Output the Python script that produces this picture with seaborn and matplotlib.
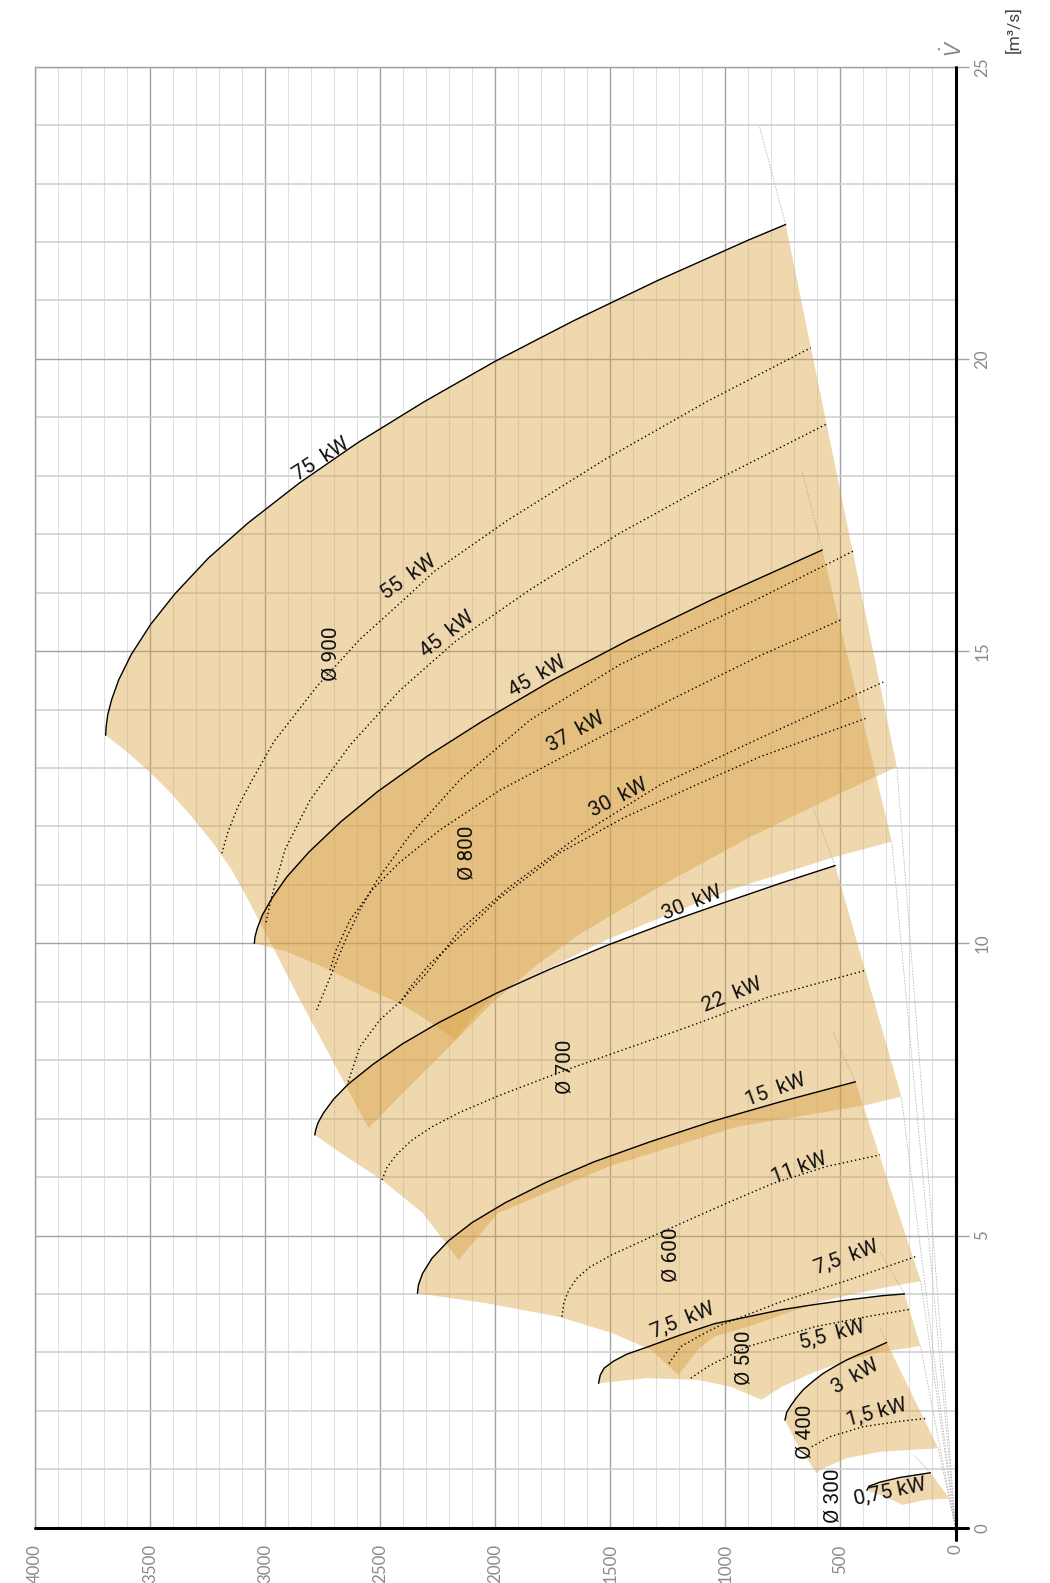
import matplotlib
matplotlib.use("Agg")
import matplotlib.pyplot as plt
import seaborn as sns
import pandas as pd
from matplotlib.ticker import MultipleLocator

# ---------------- data (pressure p in Pa, flow V in m3/s) ----------------
P_TICKS = [0, 500, 1000, 1500, 2000, 2500, 3000, 3500, 4000]
V_TICKS = [0, 5, 10, 15, 20, 25]

# --- Ø900 ---
D900_TOP_P = [3693, 3691, 3684, 3667, 3636, 3582, 3497, 3392, 3247, 3075, 2850, 2596, 2312,
              2000, 1661, 1295, 902, 738]
D900_TOP_V = [13.56, 13.70, 13.91, 14.17, 14.51, 14.94, 15.46, 15.98, 16.59, 17.19, 17.88,
              18.57, 19.26, 19.96, 20.65, 21.34, 22.03, 22.30]
D900_BOT_P = [255, 515, 891, 1268, 1644, 1833, 2021, 2172, 2362, 2551]
D900_BOT_V = [13.02, 12.54, 11.82, 11.01, 10.13, 9.59, 8.95, 8.34, 7.59, 6.84]
D900_LEFT_P = [2551, 2705, 2854, 2968, 3065, 3144, 3223, 3311, 3407, 3504, 3605, 3693]
D900_LEFT_V = [6.84, 7.98, 9.07, 9.95, 10.68, 11.25, 11.70, 12.13, 12.56, 12.94, 13.29, 13.56]
D900_55_P = [3188, 3162, 3118, 3057, 2962, 2774, 2586, 2397, 2266, 1946, 1519, 1080, 629]
D900_55_V = [11.54, 11.90, 12.34, 12.79, 13.45, 14.40, 15.21, 15.88, 16.36, 17.24, 18.29,
             19.27, 20.19]
D900_45_P = [2996, 2970, 2914, 2805, 2631, 2414, 2175, 1849, 1458, 1023, 563]
D900_45_V = [10.36, 10.82, 11.60, 12.45, 13.39, 14.33, 15.16, 16.05, 17.02, 17.96, 18.88]
D900_37_P = [2776, 2705, 2645, 2588, 2514, 2371, 2153, 1849, 1458, 850, 445]
D900_37_V = [8.86, 9.54, 10.11, 10.57, 11.08, 11.85, 12.80, 13.82, 14.77, 15.91, 16.71]
D900_30_P = [2639, 2588, 2501, 2414, 2298, 2153, 1936, 1632, 1284, 850, 314]
D900_30_V = [7.63, 8.23, 8.69, 9.00, 9.49, 10.23, 10.97, 11.85, 12.71, 13.51, 14.47]

# --- Ø800 ---
D800_TOP_P = [3047, 3044, 3034, 3011, 2969, 2907, 2810, 2671, 2510, 2296, 2056, 1753, 1420,
              1059, 579]
D800_TOP_V = [10.00, 10.11, 10.26, 10.49, 10.78, 11.13, 11.56, 12.08, 12.60, 13.20, 13.80,
              14.50, 15.19, 15.88, 16.73]
D800_BOT_P = [277, 523, 984, 1517, 1871, 1996, 2088, 2172]
D800_BOT_V = [11.74, 11.48, 10.91, 10.06, 9.37, 9.14, 8.77, 8.35]
D800_LEFT_P = [2172, 2298, 2414, 2545, 2718, 2907, 3047]
D800_LEFT_V = [8.35, 8.69, 8.97, 9.20, 9.54, 9.86, 10.00]
D800_37_P = [2718, 2692, 2631, 2536, 2414, 2240, 1980, 1610, 1241, 850, 495]
D800_37_V = [9.54, 9.88, 10.40, 10.91, 11.39, 11.94, 12.62, 13.39, 14.16, 14.92, 15.54]
D800_30_P = [2414, 2371, 2284, 2153, 1980, 1719, 1436, 1110, 850, 389]
D800_30_V = [8.97, 9.24, 9.65, 10.12, 10.78, 11.55, 12.16, 12.74, 13.19, 13.85]

# --- Ø700 ---
D700_TOP_P = [2784, 2780, 2770, 2746, 2703, 2639, 2531, 2403, 2242, 1998, 1755, 1511, 1256,
              1010, 751, 523]
D700_TOP_V = [6.72, 6.81, 6.93, 7.10, 7.33, 7.59, 7.93, 8.28, 8.65, 9.14, 9.57, 9.97, 10.35,
              10.69, 11.04, 11.33]
D700_BOT_P = [235, 390, 949, 1508, 1989, 2159]
D700_BOT_V = [7.375, 7.23, 6.86, 6.18, 5.38, 4.58]
D700_LEFT_P = [2159, 2314, 2492, 2671, 2784]
D700_LEFT_V = [4.58, 5.38, 5.95, 6.41, 6.72]
D700_22_P = [2492, 2471, 2432, 2366, 2275, 2153, 1980, 1694, 1162, 807, 389]
D700_22_V = [5.95, 6.16, 6.37, 6.62, 6.86, 7.11, 7.40, 7.83, 8.57, 9.09, 9.54]

# --- Ø600 ---
D600_TOP_P = [2338, 2334, 2316, 2275, 2203, 2101, 1957, 1779, 1571, 1330, 1060, 759, 435]
D600_TOP_V = [4.01, 4.15, 4.35, 4.61, 4.91, 5.22, 5.56, 5.91, 6.26, 6.60, 6.95, 7.29, 7.63]
D600_BOT_P = [151, 318, 464, 610, 756, 902, 1048, 1121, 1204]
D600_BOT_V = [4.22, 4.10, 3.98, 3.84, 3.64, 3.44, 3.27, 3.04, 2.61]
D600_LEFT_P = [1204, 1322, 1492, 1725, 2036, 2338]
D600_LEFT_V = [2.61, 3.04, 3.33, 3.61, 3.84, 4.01]
D600_11_P = [1710, 1702, 1680, 1645, 1589, 1493, 1259, 996, 794, 561, 328]
D600_11_V = [3.61, 3.85, 4.07, 4.27, 4.46, 4.67, 5.09, 5.55, 5.89, 6.18, 6.38]
D600_75_P = [1245, 1194, 1104, 1019, 756, 464, 172]
D600_75_V = [2.81, 3.10, 3.30, 3.47, 3.87, 4.24, 4.64]

# --- Ø500 ---
D500_TOP_P = [1551, 1544, 1527, 1486, 1428, 1340, 1194, 1048, 902, 756, 610, 464, 318, 222]
D500_TOP_V = [2.47, 2.61, 2.73, 2.85, 2.97, 3.09, 3.30, 3.49, 3.61, 3.73, 3.82, 3.90, 3.97,
              4.00]
D500_BOT_P = [152, 318, 464, 610, 756, 843]
D500_BOT_V = [3.11, 3.01, 2.87, 2.67, 2.41, 2.19]
D500_LEFT_P = [843, 975, 1121, 1340, 1551]
D500_LEFT_V = [2.19, 2.41, 2.53, 2.56, 2.47]
D500_55_P = [1150, 1067, 902, 610, 372, 193]
D500_55_V = [2.56, 2.78, 3.10, 3.44, 3.62, 3.74]

# --- Ø400 ---
D400_TOP_P = [741, 734, 719, 690, 662, 618, 575, 524, 473, 422, 372, 299]
D400_TOP_V = [1.84, 1.97, 2.07, 2.23, 2.36, 2.51, 2.64, 2.76, 2.87, 2.96, 3.04, 3.17]
D400_BOT_P = [75, 198, 328, 473, 589, 603]
D400_BOT_V = [1.36, 1.33, 1.30, 1.19, 0.99, 0.93]
D400_LEFT_P = [603, 632, 690, 741]
D400_LEFT_V = [0.93, 1.10, 1.44, 1.84]
D400_15_P = [625, 545, 401, 255, 125]
D400_15_V = [1.386, 1.557, 1.728, 1.814, 1.872]

# --- Ø300 ---
D300_TOP_P = [385, 376, 328, 241, 109]
D300_TOP_V = [0.64, 0.71, 0.78, 0.86, 0.94]
D300_BOT_P = [26, 132, 230]
D300_BOT_V = [0.50, 0.475, 0.39]
D300_LEFT_P = [230, 306, 385]
D300_LEFT_V = [0.39, 0.53, 0.64]

# faint system lines: lower corner and upper extension of each fan field
SYS_LOW_P = [255, 277, 235, 151, 152, 75, 26]
SYS_LOW_V = [13.02, 11.74, 7.375, 4.22, 3.11, 1.36, 0.50]
SYS_HI_P0 = [738, 579, 523, 435, 222, 299, 109]
SYS_HI_V0 = [22.30, 16.73, 11.33, 7.63, 4.00, 3.17, 0.94]
SYS_HI_P1 = [852, 667, 619, 532, 328, 328, 180]
SYS_HI_V1 = [23.98, 18.09, 12.32, 8.48, 4.72, 3.42, 1.24]

# labels: text, p, V, rotation
LABEL_TEXT = ["75  kW", "55  kW", "Ø 900", "45  kW", "45  kW", "37  kW", "30  kW", "Ø 800",
              "30  kW", "22  kW", "Ø 700", "15  kW", "11 kW", "Ø 600", "7,5  kW", "7,5  kW",
              "5,5  kW", "Ø 500", "3  kW", "1,5 kW", "Ø 400", "0,75 kW", "Ø 300"]
LABEL_P = [2758, 2377, 2713, 2209, 1818, 1651, 1467, 2121, 1147, 971, 1695, 783, 678, 1235,
           476, 1186, 537, 919, 436, 344, 655, 283, 533]
LABEL_V = [18.28, 16.26, 14.95, 15.29, 14.57, 13.62, 12.49, 11.54, 10.68, 9.12, 7.88, 7.48,
           6.15, 4.67, 4.63, 3.54, 3.29, 2.91, 2.59, 1.96, 1.64, 0.62, 0.54]
LABEL_ROT = [33, 35, 90, 38, 30, 29, 27, 90, 22, 22, 90, 20, 20, 90, 20, 22, 15, 90, 30, 15,
             90, 12, 90]

# ---------------- drawing ----------------
sns.set_theme(style="white")
plt.rcParams["font.family"] = ["Roboto", "DejaVu Sans"]

FILL = "#D9A040"
ALPHA = 0.42
GRID_MAJOR = "#a3a3a3"
TICK_COLOR = "#8a8a8a"

fig = plt.figure(figsize=(10.5, 15.83), dpi=100)
ax = fig.add_axes([35 / 1050, 1 - 1527.7 / 1583, 920.5 / 1050, 1461 / 1583])
ax.set_xlim(4000, 0)
ax.set_ylim(0, 25)

ax.xaxis.set_major_locator(MultipleLocator(500))
ax.xaxis.set_minor_locator(MultipleLocator(100))
ax.yaxis.set_major_locator(MultipleLocator(5))
ax.yaxis.set_minor_locator(MultipleLocator(1))
ax.set_axisbelow(True)
ax.grid(which="major", color=GRID_MAJOR, lw=1.0)
ax.grid(which="minor", axis="x", color="#e0e0e0", lw=0.8)
ax.grid(which="minor", axis="y", color="#cdcdcd", lw=1.1)

ax.set_xticks(P_TICKS)
ax.set_xticklabels([str(t) for t in P_TICKS])
ax.set_yticks(V_TICKS)
ax.set_yticklabels([str(t) for t in V_TICKS])
ax.yaxis.set_ticks_position("right")
ax.tick_params(axis="x", which="both", length=0, pad=12, labelrotation=90,
               labelsize=12.2, labelcolor=TICK_COLOR)
ax.tick_params(axis="y", which="major", length=9.5, width=1.0, color=GRID_MAJOR, pad=4,
               labelrotation=90, labelsize=12.2, labelcolor=TICK_COLOR)
ax.tick_params(axis="y", which="minor", length=0)
for lab in ax.get_xticklabels() + ax.get_yticklabels():
    lab.set_fontfamily(["Lato", "DejaVu Sans"])
for lab in ax.get_yticklabels():
    lab.set_verticalalignment("center")

for s in ["left", "top"]:
    ax.spines[s].set_color(GRID_MAJOR)
    ax.spines[s].set_linewidth(1.0)
for s in ["right", "bottom"]:
    ax.spines[s].set_visible(False)
ax.plot([1, 1], [-12 / 1461, 1], transform=ax.transAxes, color="black", lw=2.2,
        clip_on=False, zorder=6)
ax.plot([0, 1 + 13 / 920.5], [0, 0], transform=ax.transAxes, color="black", lw=2.2,
        clip_on=False, zorder=6)

# faint system lines
for i in range(len(SYS_LOW_P)):
    ax.plot([0, SYS_LOW_P[i]], [0, SYS_LOW_V[i]], color="#b8b8b8", lw=0.6,
            ls=(0, (2, 1.5)), zorder=1)
    ax.plot([SYS_HI_P0[i], SYS_HI_P1[i]], [SYS_HI_V0[i], SYS_HI_V1[i]], color="#b8b8b8",
            lw=0.6, ls=(0, (2, 1.5)), zorder=1)

regions = [
    (D900_TOP_P, D900_TOP_V, D900_BOT_P, D900_BOT_V, D900_LEFT_P, D900_LEFT_V),
    (D800_TOP_P, D800_TOP_V, D800_BOT_P, D800_BOT_V, D800_LEFT_P, D800_LEFT_V),
    (D700_TOP_P, D700_TOP_V, D700_BOT_P, D700_BOT_V, D700_LEFT_P, D700_LEFT_V),
    (D600_TOP_P, D600_TOP_V, D600_BOT_P, D600_BOT_V, D600_LEFT_P, D600_LEFT_V),
    (D500_TOP_P, D500_TOP_V, D500_BOT_P, D500_BOT_V, D500_LEFT_P, D500_LEFT_V),
    (D400_TOP_P, D400_TOP_V, D400_BOT_P, D400_BOT_V, D400_LEFT_P, D400_LEFT_V),
    (D300_TOP_P, D300_TOP_V, D300_BOT_P, D300_BOT_V, D300_LEFT_P, D300_LEFT_V),
]
for tp, tv, bp, bv, lp, lv in regions:
    ax.fill(tp + bp + lp, tv + bv + lv, color=FILL, alpha=ALPHA, lw=0, zorder=2)
    df = pd.DataFrame({"p": tp, "V": tv})
    sns.lineplot(data=df, x="p", y="V", sort=False, estimator=None, color="black",
                 lw=1.0, ax=ax, zorder=4)

dotted = [
    (D900_55_P, D900_55_V), (D900_45_P, D900_45_V), (D900_37_P, D900_37_V),
    (D900_30_P, D900_30_V), (D800_37_P, D800_37_V), (D800_30_P, D800_30_V),
    (D700_22_P, D700_22_V), (D600_11_P, D600_11_V), (D600_75_P, D600_75_V),
    (D500_55_P, D500_55_V), (D400_15_P, D400_15_V),
]
for dp, dv in dotted:
    df = pd.DataFrame({"p": dp, "V": dv})
    sns.lineplot(data=df, x="p", y="V", sort=False, estimator=None, color="black",
                 lw=1.0, ls=(0, (1, 2)), ax=ax, zorder=4)

for t, p, v, r in zip(LABEL_TEXT, LABEL_P, LABEL_V, LABEL_ROT):
    ax.text(p, v, t, rotation=r, rotation_mode="anchor", ha="center", va="center",
            fontsize=15, color="#111111", zorder=5)

ax.set_xlabel("")
ax.set_ylabel("")

fig.text(953 / 1050, 1 - 48 / 1583, r"$\dot{V}$", rotation=90, ha="center", va="center",
         fontsize=15, color=TICK_COLOR)
fig.text(1013 / 1050, 1 - 30 / 1583, "[m³/s]", rotation=90, ha="center", va="center",
         fontsize=12.5, color="#444444")

fig.savefig("out.png", dpi=100)
